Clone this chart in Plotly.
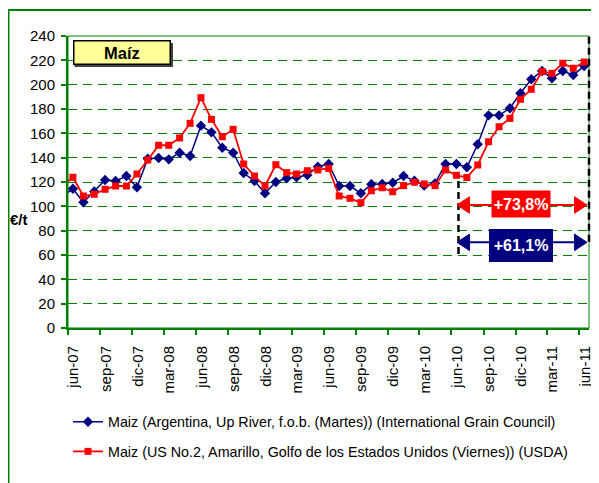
import plotly.graph_objects as go

# ---- data ----
dates = [f"{y}-{m:02d}-15" for y in range(2007, 2012) for m in range(1, 13)
         if (y, m) >= (2007, 5) and (y, m) <= (2011, 6)]
argentina = [107.7, 114.5, 103.3, 112.2, 121.6, 120.8, 124.9, 115.6, 139.2, 139.7,
             138.6, 144.1, 141.4, 166.3, 160.8, 148.2, 144.1, 127.4, 120.8, 110.7,
             120.0, 123.0, 123.9, 125.7, 132.6, 134.8, 116.7, 116.7, 110.7, 118.1,
             118.4, 119.4, 124.9, 121.1, 117.0, 118.9, 134.8, 134.8, 132.1, 151.0,
             174.8, 174.8, 180.6, 192.9, 204.4, 211.2, 205.2, 211.2, 207.9, 215.3]
usa = [116.3, 123.9, 108.5, 109.9, 114.0, 116.7, 116.7, 126.6, 138.1, 150.2,
       150.2, 156.2, 168.2, 189.3, 171.5, 157.2, 163.3, 134.8, 124.9, 116.7,
       134.2, 127.7, 126.6, 129.3, 129.9, 131.2, 108.5, 106.6, 103.0, 112.8,
       115.3, 112.0, 117.0, 119.8, 118.4, 117.0, 129.9, 125.5, 123.7, 134.0,
       153.1, 165.4, 172.3, 188.0, 196.2, 210.7, 209.3, 217.6, 213.5, 218.6]
name_arg = "Maiz (Argentina, Up River, f.o.b. (Martes)) (International Grain Council)"
name_usa = "Maiz (US No.2, Amarillo, Golfo de los Estados Unidos (Viernes)) (USDA)"
tick_dates = ["2007-06-01", "2007-09-01", "2007-12-01", "2008-03-01", "2008-06-01",
              "2008-09-01", "2008-12-01", "2009-03-01", "2009-06-01", "2009-09-01",
              "2009-12-01", "2010-03-01", "2010-06-01", "2010-09-01", "2010-12-01",
              "2011-03-01", "2011-06-01"]
tick_labels = ["jun-07", "sep-07", "dic-07", "mar-08", "jun-08", "sep-08", "dic-08",
               "mar-09", "jun-09", "sep-09", "dic-09", "mar-10", "jun-10", "sep-10",
               "dic-10", "mar-11", "jun-11"]
label_dates = [d[:8] + "17" for d in tick_dates]
y_ticks = list(range(0, 241, 20))
pct_usa = "+73,8%"
pct_arg = "+61,1%"

BLUE = "#000080"
RED = "#FF0000"
GREEN = "#008000"
SANS = "Liberation Sans, Arial, sans-serif"

# The page body has an 8px margin, so the figure is shrunk by 8px and margins shifted.
OFF = 8
# plot area in reference-page pixels
L, R, T, B = 68, 589, 36, 328
def px(x):
    return (x - L) / (R - L)
def py(y):
    return (B - y) / (B - T)

fig = go.Figure()
fig.add_trace(go.Scatter(x=dates, y=argentina, name=name_arg, mode="lines+markers",
                         line=dict(color=BLUE, width=1.5),
                         marker=dict(symbol="diamond", size=8, color=BLUE),
                         legendgroup="a"))
fig.add_trace(go.Scatter(x=dates, y=usa, name=name_usa, mode="lines+markers",
                         line=dict(color=RED, width=1.8),
                         marker=dict(symbol="square", size=7, color=RED),
                         legendgroup="b"))

shapes = []
# outer frame
shapes.append(dict(type="rect", xref="paper", yref="paper",
                   x0=px(OFF + 0.5), x1=px(640), y0=py(10), y1=py(520),
                   line=dict(color=GREEN, width=2), layer="below"))
# plot area border
shapes.append(dict(type="rect", xref="paper", yref="paper", x0=0, x1=1, y0=0, y1=1,
                   line=dict(color=GREEN, width=1), layer="below"))
# title box shadow
shapes.append(dict(type="rect", xref="paper", yref="paper",
                   x0=px(74.5), x1=px(173), y0=py(67), y1=py(43),
                   fillcolor="#444444", line=dict(width=0)))
# dashed vertical markers
shapes.append(dict(type="line", xref="x", yref="y", x0="2010-06-21", x1="2010-06-21",
                   y0=60.8, y1=124.4, line=dict(color="black", width=2.5, dash="7px,4px")))
shapes.append(dict(type="line", xref="paper", yref="y", x0=1, x1=1,
                   y0=70.9, y1=240, line=dict(color="black", width=2.5, dash="7px,4px")))
# double arrows
for yv, col in [(101.1, RED), (70.4, BLUE)]:
    shapes.append(dict(type="line", xref="paper", yref="y", x0=px(462), x1=px(582),
                       y0=yv, y1=yv, line=dict(color=col, width=2)))
    h = 6.8
    shapes.append(dict(type="path", xref="paper", yref="y",
                       path=f"M{px(457)},{yv} L{px(469.5)},{yv+h} L{px(469.5)},{yv-h} Z",
                       fillcolor=col, line=dict(color=col, width=1)))
    shapes.append(dict(type="path", xref="paper", yref="y",
                       path=f"M{px(587)},{yv} L{px(574.5)},{yv+h} L{px(574.5)},{yv-h} Z",
                       fillcolor=col, line=dict(color=col, width=1)))

annotations = [
    dict(xref="paper", yref="paper", x=px(122), y=py(52.5), text="<b>Maíz</b>",
         xanchor="center", yanchor="middle",
         showarrow=False, bgcolor="#FFFF99", bordercolor="black", borderwidth=1.5,
         borderpad=0, width=95, height=22, font=dict(family=SANS, size=16.5, color="black")),
    dict(xref="paper", yref="paper", x=px(19), y=py(219), text="<b>€/t</b>",
         xanchor="center", yanchor="middle",
         showarrow=False, font=dict(family=SANS, size=15, color="black")),
    dict(xref="paper", yref="y", x=px(521), y=101.9, text=f"<b>{pct_usa}</b>",
         xanchor="center", yanchor="middle",
         showarrow=False, bgcolor=RED, borderpad=0, width=58, height=26,
         font=dict(family=SANS, size=16, color="white")),
    dict(xref="paper", yref="y", x=px(521), y=68.0, text=f"<b>{pct_arg}</b>",
         xanchor="center", yanchor="middle",
         showarrow=False, bgcolor=BLUE, bordercolor=BLUE, borderwidth=1,
         borderpad=0, width=62, height=31,
         font=dict(family=SANS, size=16, color="white")),
]

fig.update_layout(
    width=599 - OFF, height=483 - OFF,
    margin=dict(l=L - OFF, r=599 - R, t=T - OFF, b=483 - B, autoexpand=False),
    paper_bgcolor="white", plot_bgcolor="white",
    showlegend=True,
    legend=dict(x=0, y=py(406), xanchor="left", yanchor="top",
                font=dict(family=SANS, size=14.3, color="black"),
                tracegroupgap=8, traceorder="grouped", bgcolor="rgba(0,0,0,0)"),
    shapes=shapes, annotations=annotations,
    xaxis=dict(type="date", range=["2007-06-01", "2011-06-29"], automargin=False,
               tickmode="array", tickvals=label_dates, ticktext=tick_labels,
               tickangle=-90, ticks="", ticklen=0,
               tickfont=dict(family=SANS, size=15, color="black"),
               ticklabelstandoff=10,
               showgrid=False, showline=True, linecolor=GREEN, linewidth=2,
               minor=dict(tickmode="array", tickvals=tick_dates, ticks="outside",
                          ticklen=5, tickcolor=GREEN, tickwidth=1.5, showgrid=False),
               zeroline=False, fixedrange=True),
    yaxis=dict(range=[0, 240], tickmode="array", tickvals=y_ticks, automargin=False,
               tickfont=dict(family=SANS, size=15, color="black"),
               showgrid=True, gridcolor=GREEN, griddash="9px,6px", gridwidth=1,
               showline=True, linecolor=GREEN, linewidth=2,
               ticks="outside", ticklen=5, tickcolor=GREEN, tickwidth=1.5,
               ticklabelstandoff=3, zeroline=False, fixedrange=True),
)

fig.write_html("out.html")
